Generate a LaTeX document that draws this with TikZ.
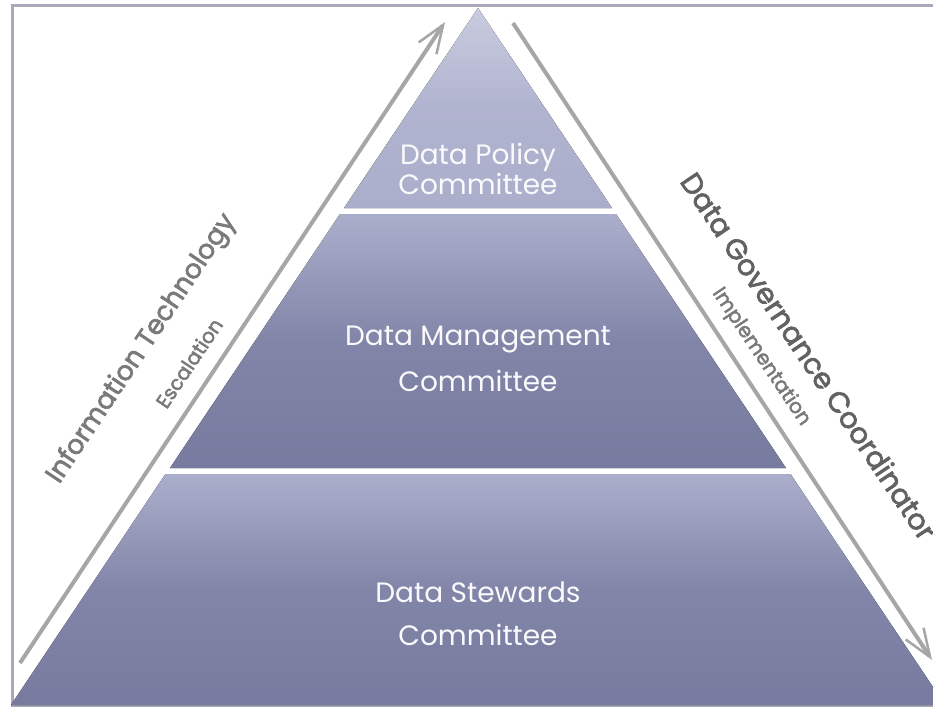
\documentclass[tikz,border=0pt]{standalone}
\usepackage{fontspec}
\setmainfont{Poppins}
\newfontfamily\sidefont[FakeBold=2.4]{Poppins}
\usetikzlibrary{positioning, arrows.meta}
\definecolor{tierpale}{HTML}{C9CBDF}
\definecolor{tierlight}{HTML}{ABAECB}
\definecolor{tierdark}{HTML}{777B9F}
\definecolor{framegray}{HTML}{A9A9BA}
\definecolor{flowgray}{HTML}{A6A6A6}
\definecolor{labelgray}{HTML}{7A7A7A}
\tikzset{
  frame/.style={
    draw=framegray,
    line width=2.25pt
  },
  tier/.style 2 args={
    draw=none,
    top color=#1,
    bottom color=#2,
    middle color=#2!80!#1
  },
  tierlabel/.style={
    text=white!90!tierpale,
    align=center,
    inner sep=0pt,
    font=\fontsize{21}{20.25}\selectfont
  },
  side/.style={
    text=labelgray,
    inner sep=0pt,
    font=\sidefont\fontsize{20}{24}\selectfont
  },
  sub/.style={
    text=labelgray,
    inner sep=0pt,
    font=\sidefont\fontsize{15}{17}\selectfont
  },
  flow/.style={
    draw=flowgray,
    line width=3pt,
    -{Straight Barb[length=21pt,width=16pt,line width=1.9pt]}
  }
}

\begin{document}
\begin{tikzpicture}[x=0.75pt,y=-0.75pt]
\useasboundingbox (0,0) rectangle (933,710);
% frame
\draw[frame] (12,6) rectangle (950,705);

% tiers
\fill[tier={tierpale}{tierlight}] (478,8) -- (612,208) -- (344,208) -- cycle;
\fill[tier={tierlight}{tierdark}] (340,214) -- (616,214) -- (786,468) -- (170,468) -- cycle;
\fill[tier={tierlight}{tierdark}] (165.5,474) -- (790.5,474) -- (945,705) -- (11,705) -- cycle;

% nodes
\node[tierlabel] (policy) at (478,169) {Data Policy\\Committee};
\node[tierlabel] (management) at (478,359) {Data Management\\[11.75pt]Committee};
\node[tierlabel] (stewards) at (478,614) {Data Stewards\\[11.75pt]Committee};

\node[side, rotate=56.2] (it) at (142,349) {Information Technology};
\node[sub, rotate=56.2] (esc) at (189,363) {Escalation};
\node[side, rotate=-56.2, text=labelgray!80!black, font=\sidefont\fontsize{21.5}{26}\selectfont] (dgc) at (809,356) {Data Governance Coordinator};
\node[sub, rotate=-56.2] (impl) at (761,357) {Implementation};

% edges
\coordinate (itlow) at (20,663);
\coordinate (ittop) at (445,22);
\coordinate (dgctop) at (513,23);
\coordinate (dgclow) at (932,660);
\draw[flow] (itlow) -- (ittop);
\draw[flow] (dgctop) -- (dgclow);

\end{tikzpicture}
\end{document}
